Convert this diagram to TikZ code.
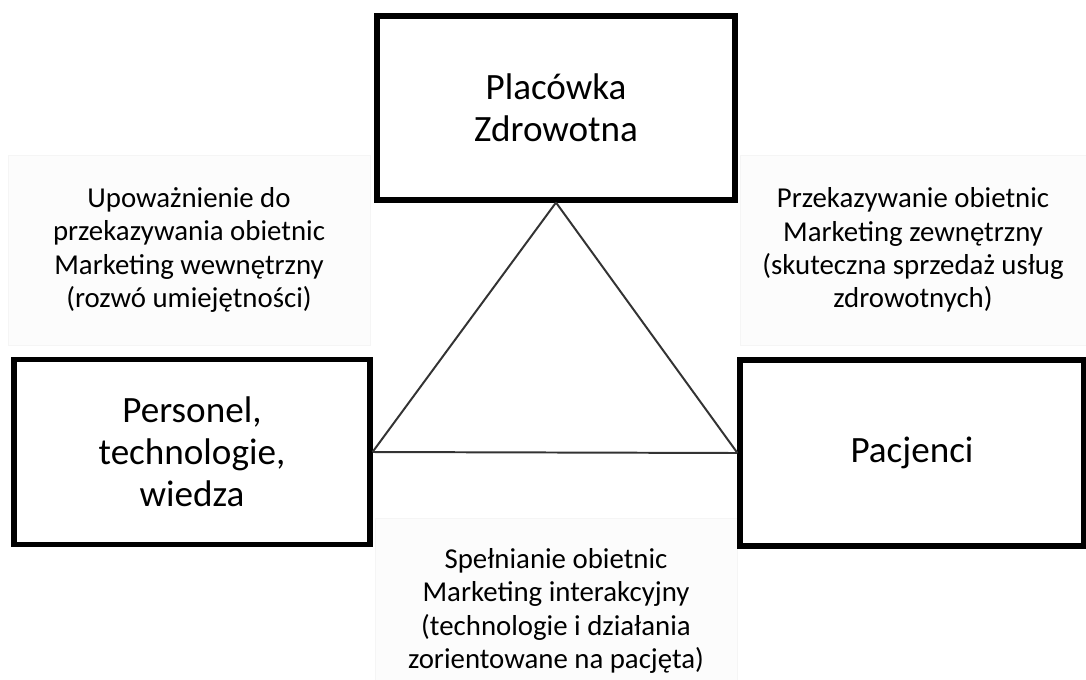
\documentclass[tikz,border=0pt]{standalone}
\usepackage{fontspec}
\setmainfont{Carlito}
\begin{document}
\begin{tikzpicture}[
	x=0.025cm, y=-0.025cm,
	block/.style={
		rectangle,
		draw=black, line width=3.6pt,
		font=\fontsize{26.4}{30}\selectfont,
		align=center
	},
	note/.style={
		rectangle,
		draw=black!4, fill=black!1,
		font=\fontsize{20.5}{23.6}\selectfont,
		align=center
	},
	line/.style={draw=black!80, line width=1.4pt},
	]
	\useasboundingbox (0,0) rectangle (1086,679);

	\node [note, minimum width=362*0.025cm, minimum height=190*0.025cm] (nleft) at (189,250)
		{Upoważnienie do\\przekazywania obietnic\\Marketing wewnętrzny\\(rozwó umiejętności)};
	\node [note, minimum width=346*0.025cm, minimum height=190*0.025cm] (nright) at (913,250)
		{Przekazywanie obietnic\\Marketing zewnętrzny\\(skuteczna sprzedaż usług\\zdrowotnych)};
	\node [note, minimum width=362*0.025cm, minimum height=180*0.025cm, anchor=north] (nbottom) at (556,518) {};
	\node [font=\fontsize{20.5}{23.6}\selectfont, align=center] (tbottom) at (556,611)
		{Spełnianie obietnic\\Marketing interakcyjny\\(technologie i działania\\zorientowane na pacjęta)};

	\node [block, minimum width=358*0.025cm, minimum height=184*0.025cm] (fac) at (556,108)
		{Placówka\\Zdrowotna};
	\node [block, minimum width=356*0.025cm, minimum height=185*0.025cm] (staff) at (192,452)
		{Personel,\\technologie,\\wiedza};
	\node [block, minimum width=344*0.025cm, minimum height=186*0.025cm] (pat) at (912,453)
		{Pacjenci};

	\path [line] (fac.south) -- (staff.east);
	\path [line] (fac.south) -- (pat.west);
	\path [line] (staff.east) -- (pat.west);
\end{tikzpicture}
\end{document}
